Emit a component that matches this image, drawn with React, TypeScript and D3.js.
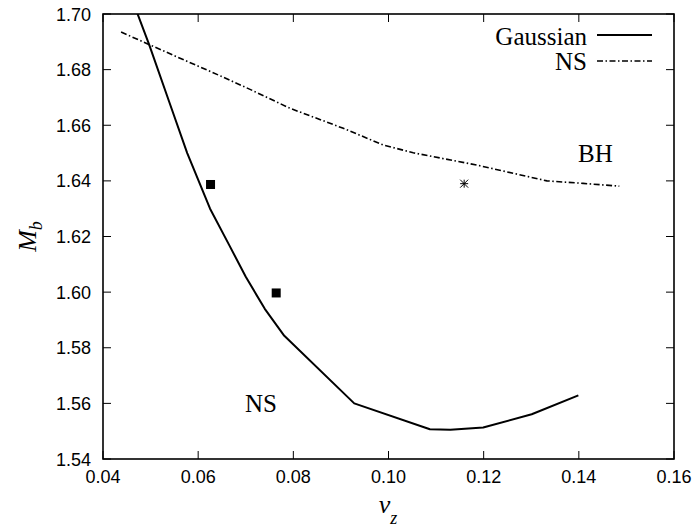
import React from "react";
import * as d3 from "d3";

const W = 694;
const H = 529;
const margin = { left: 103, right: 20, top: 14, bottom: 70 };

const xTicks = [0.04, 0.06, 0.08, 0.1, 0.12, 0.14, 0.16];
const yTicks = [1.54, 1.56, 1.58, 1.6, 1.62, 1.64, 1.66, 1.68, 1.7];

const gaussVz = [0.0465, 0.0497, 0.054, 0.0577, 0.0625, 0.0665, 0.07, 0.074, 0.0781, 0.0928, 0.1087, 0.113, 0.1199, 0.1301, 0.1399];
const gaussMb = [1.7035, 1.689, 1.668, 1.65, 1.63, 1.617, 1.6055, 1.594, 1.5843, 1.56, 1.5507, 1.5505, 1.5513, 1.5561, 1.5629];

const nsVz = [0.0438, 0.055, 0.065, 0.0709, 0.0793, 0.0905, 0.0989, 0.1052, 0.1185, 0.1333, 0.1409, 0.1485];
const nsMb = [1.6935, 1.685, 1.6775, 1.6729, 1.6661, 1.6589, 1.6529, 1.6501, 1.6457, 1.64, 1.6391, 1.6381];

const squareVz = [0.0626, 0.0764];
const squareMb = [1.6387, 1.5997];
const starVz = [0.1159];
const starMb = [1.639];

const legendLabels = ["Gaussian", "NS"];

export default function App() {
  const x = d3.scaleLinear().domain([0.04, 0.16]).range([margin.left, W - margin.right]);
  const y = d3.scaleLinear().domain([1.54, 1.7]).range([H - margin.bottom, margin.top]);
  const x0 = x.range()[0], x1 = x.range()[1];
  const y0 = y.range()[0], y1 = y.range()[1];

  const line = d3
    .line<[number, number]>()
    .x((d) => x(d[0]))
    .y((d) => y(d[1]));

  const gauss: [number, number][] = gaussVz.map((v, i) => [v, gaussMb[i]]);
  const ns: [number, number][] = nsVz.map((v, i) => [v, nsMb[i]]);

  const tickLen = 8;
  const dash = "6,2.5,1.5,2.5";
  const tickFont = "'Liberation Sans', Arial, sans-serif";
  const serif = "'Liberation Serif', 'Times New Roman', serif";

  return (
    <div style={{ position: "absolute", left: 0, top: 0 }}>
      <svg width={W} height={H} style={{ display: "block", background: "#fff" }}>
        <defs>
          <clipPath id="plotClip">
            <rect x={x0} y={y1} width={x1 - x0} height={y0 - y1} />
          </clipPath>
        </defs>
        <rect x={0} y={0} width={W} height={H} fill="#fff" />

        {/* ticks */}
        {xTicks.map((t) => (
          <g key={"xt" + t}>
            <line x1={x(t)} x2={x(t)} y1={y0} y2={y0 - tickLen} stroke="#000" strokeWidth={1} />
            <line x1={x(t)} x2={x(t)} y1={y1} y2={y1 + tickLen} stroke="#000" strokeWidth={1} />
            <text x={x(t)} y={y0 + 24} textAnchor="middle" fontFamily={tickFont} fontSize={18} fill="#000">
              {d3.format(".2f")(t)}
            </text>
          </g>
        ))}
        {yTicks.map((t) => (
          <g key={"yt" + t}>
            <line x1={x0} x2={x0 + tickLen} y1={y(t)} y2={y(t)} stroke="#000" strokeWidth={1} />
            <line x1={x1} x2={x1 - tickLen} y1={y(t)} y2={y(t)} stroke="#000" strokeWidth={1} />
            <text x={x0 - 12} y={y(t) + 6.5} textAnchor="end" fontFamily={tickFont} fontSize={18} fill="#000">
              {d3.format(".2f")(t)}
            </text>
          </g>
        ))}

        {/* curves */}
        <g clipPath="url(#plotClip)">
          <path d={line(gauss) || ""} fill="none" stroke="#000" strokeWidth={2} strokeLinejoin="round" />
          <path d={line(ns) || ""} fill="none" stroke="#000" strokeWidth={1.6} strokeDasharray={dash} />
        </g>

        {/* markers */}
        {squareVz.map((v, i) => (
          <rect key={"sq" + i} x={x(v) - 4.5} y={y(squareMb[i]) - 4.5} width={9} height={9} fill="#000" />
        ))}
        {starVz.map((v, i) => {
          const cx = x(v), cy = y(starMb[i]), r = 4;
          return (
            <g key={"st" + i} stroke="#000" strokeWidth={1}>
              <line x1={cx - r} x2={cx + r} y1={cy} y2={cy} />
              <line x1={cx} x2={cx} y1={cy - r} y2={cy + r} />
              <line x1={cx - r} x2={cx + r} y1={cy - r} y2={cy + r} />
              <line x1={cx - r} x2={cx + r} y1={cy + r} y2={cy - r} />
            </g>
          );
        })}

        {/* frame */}
        <rect x={x0} y={y1} width={x1 - x0} height={y0 - y1} fill="none" stroke="#000" strokeWidth={1.6} />

        {/* legend */}
        <text x={587} y={45} textAnchor="end" fontFamily={serif} fontSize={25} fill="#000">{legendLabels[0]}</text>
        <line x1={597} x2={652} y1={35} y2={35} stroke="#000" strokeWidth={2} />
        <text x={587} y={70} textAnchor="end" fontFamily={serif} fontSize={25} fill="#000">{legendLabels[1]}</text>
        <line x1={597} x2={652} y1={61} y2={61} stroke="#000" strokeWidth={1.6} strokeDasharray={dash} />

        {/* region labels */}
        <text x={245} y={412} fontFamily={serif} fontSize={25} fill="#000">NS</text>
        <text x={578} y={162} fontFamily={serif} fontSize={25} fill="#000">BH</text>

        {/* axis titles */}
        <text x={388} y={513} textAnchor="middle" fontFamily={serif} fill="#000">
          <tspan fontSize={26} fontStyle="italic">v</tspan>
          <tspan fontSize={18} fontStyle="italic" dy={11}>z</tspan>
        </text>
        <text transform={`translate(36, ${(y0 + y1) / 2}) rotate(-90)`} textAnchor="middle" fontFamily={serif} fill="#000">
          <tspan fontSize={26} fontStyle="italic">M</tspan>
          <tspan fontSize={18} fontStyle="italic" dy={6}>b</tspan>
        </text>
      </svg>
    </div>
  );
}
